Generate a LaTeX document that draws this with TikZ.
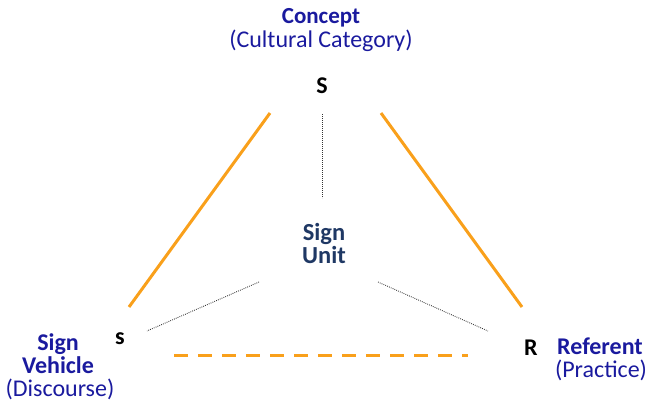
\documentclass[tikz,border=0pt]{standalone}
\usepackage{fontspec}
\setmainfont{Carlito}
\definecolor{conceptblue}{HTML}{1A1A9E}
\definecolor{unitnavy}{HTML}{1F3864}
\definecolor{linkorange}{HTML}{F9A01B}
\tikzset{
  tight/.style={inner sep=0pt, text height=0.7em, text depth=0.15em},
  head/.style={tight, font=\fontsize{23}{25}\selectfont\bfseries, text=conceptblue},
  sidehead/.style={tight, font=\fontsize{24}{26}\selectfont\bfseries, text=conceptblue},
  sub/.style={tight, font=\fontsize{24}{26}\selectfont, text=conceptblue},
  corner/.style={tight, font=\fontsize{24}{26}\selectfont\bfseries, text=black},
  unit/.style={tight, font=\fontsize{24.5}{23}\selectfont\bfseries, text=unitnavy},
  side/.style={draw=linkorange, line width=3pt},
  base/.style={draw=linkorange, line width=3pt, dash pattern=on 14pt off 10pt},
  tie/.style={draw=black!80, line width=0.9pt, dash pattern=on 0.8pt off 1.2pt}
}
\begin{document}
\begin{tikzpicture}[x=1pt,y=-1pt]
\useasboundingbox (0,0) rectangle (648,402);
% labels
\node[head] (concept) at (321,21) {Concept};
\node[sub] (category) at (321,45) {(Cultural Category)};
\node[corner] (S) at (322,91) {S};
\node[corner] (s) at (120,342) {s};
\node[corner] (R) at (531,353) {R};
\node[unit] (unit1) at (324,238) {Sign};
\node[unit] (unit2) at (324,261) {Unit};
\node[sidehead] (sign) at (58,348) {Sign};
\node[sidehead] (vehicle) at (58,371) {Vehicle};
\node[sub] (discourse) at (60,394) {(Discourse)};
\node[sidehead] (referent) at (600,352) {Referent};
\node[sub] (practice) at (601,375) {(Practice)};
% triangle sides
\coordinate (lt) at (270,113);
\coordinate (lb) at (129,307);
\coordinate (rt) at (381,113);
\coordinate (rb) at (522,307);
\coordinate (dl) at (174,355);
\coordinate (dr) at (468,355);
\draw[side] (lt) -- (lb);
\draw[side] (rt) -- (rb);
\draw[base] (dl) -- (dr);
% ties to the sign unit
\coordinate (vt) at (322,114);
\coordinate (vb) at (322,198);
\coordinate (ul) at (259,282);
\coordinate (sl) at (147,331);
\coordinate (ur) at (378,282);
\coordinate (sr) at (488,331);
\draw[tie] (vt) -- (vb);
\draw[tie] (ul) -- (sl);
\draw[tie] (ur) -- (sr);
\end{tikzpicture}
\end{document}
